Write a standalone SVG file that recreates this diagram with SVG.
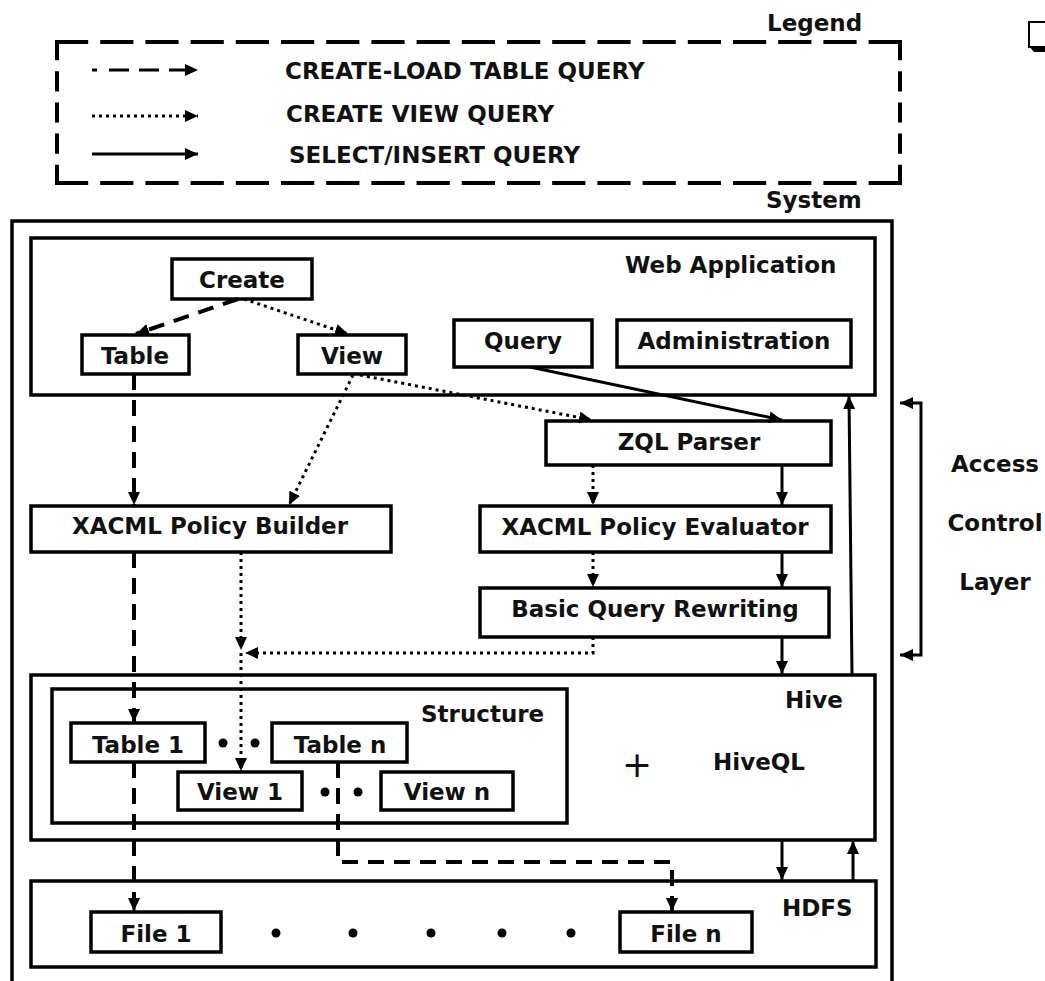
<svg xmlns="http://www.w3.org/2000/svg" width="1045" height="981" viewBox="0 0 1045 981">
  <defs>
    <style>
      .lbl { font-family: "DejaVu Sans", "Liberation Sans", sans-serif; font-weight: bold; font-size: 23px; fill: #111; }
      .mid { text-anchor: middle; }
      .box { fill: #fff; stroke: #000; stroke-width: 3.5; }
      .frame { fill: none; stroke: #000; stroke-width: 3.5; }
      .ln { fill: none; stroke: #000; stroke-width: 3; }
      .dash { stroke-width: 4; stroke-dasharray: 16 10; }
      .dot { stroke-width: 3; stroke-dasharray: 3 4; }
      .lgd { fill: none; stroke: #000; stroke-width: 4; }
      .arr { marker-end: url(#ah); }
    </style>
    <marker id="ah" markerUnits="userSpaceOnUse" markerWidth="14" markerHeight="12" refX="13" refY="6" orient="auto-start-reverse">
      <path d="M0,0 L13,6 L0,12 z" fill="#000"/>
    </marker>
  </defs>

  <rect width="1045" height="981" fill="#fff"/>

  <!-- legend panel -->
  <g id="legend">
    <path class="lgd" d="M55,42 H902" stroke-dasharray="33.2 12"/>
    <path class="lgd" d="M55,183 H902" stroke-dasharray="33.2 12"/>
    <path class="lgd" d="M57,40 V185" stroke-dasharray="20.2 11"/>
    <path class="lgd" d="M900,40 V185" stroke-dasharray="20.2 11"/>
    <text class="lbl" x="767" y="31">Legend</text>
    <path class="ln arr" d="M92,70 H198" stroke-width="4" stroke-dasharray="5 12 20 10 20 10 20 10 20"/>
    <path class="ln dot arr" d="M92,116 H198"/>
    <path class="ln arr" d="M92,154 H198"/>
    <text class="lbl" x="285" y="79">CREATE-LOAD TABLE QUERY</text>
    <text class="lbl" x="286" y="122">CREATE VIEW QUERY</text>
    <text class="lbl" x="289" y="163">SELECT/INSERT QUERY</text>
  </g>

  <!-- bullet mark, top right -->
  <g id="bullet">
    <rect x="1029" y="22" width="30" height="25" fill="#fff" stroke="#000" stroke-width="2"/>
    <path d="M1029,46 H1060 V52 H1034 z" fill="#000"/>
  </g>

  <!-- system frame (open at the bottom) -->
  <g id="system">
    <path class="frame" d="M12,990 V221 H892 V990"/>
    <text class="lbl" x="766" y="208">System</text>
  </g>

  <!-- web application tier -->
  <g id="webapp">
    <rect class="frame" x="31" y="238" width="844" height="157"/>
    <text class="lbl" x="625" y="273">Web Application</text>
  </g>
  <g id="create">
    <rect class="box" x="172" y="259" width="140" height="40"/>
    <text class="lbl mid" x="242" y="288">Create</text>
  </g>
  <g id="table">
    <rect class="box" x="82" y="335" width="107" height="39"/>
    <text class="lbl mid" x="135" y="364">Table</text>
  </g>
  <g id="view">
    <rect class="box" x="298" y="335" width="108" height="39"/>
    <text class="lbl mid" x="352" y="364">View</text>
  </g>
  <g id="query">
    <rect class="box" x="454" y="320" width="138" height="47"/>
    <text class="lbl mid" x="523" y="349">Query</text>
  </g>
  <g id="administration">
    <rect class="box" x="617" y="320" width="234" height="47"/>
    <text class="lbl mid" x="734" y="349">Administration</text>
  </g>

  <!-- access control layer -->
  <g id="zql-parser">
    <rect class="box" x="546" y="421" width="285" height="44"/>
    <text class="lbl mid" x="689" y="450">ZQL Parser</text>
  </g>
  <g id="policy-builder">
    <rect class="box" x="31" y="506" width="360" height="46"/>
    <text class="lbl mid" x="210" y="534">XACML Policy Builder</text>
  </g>
  <g id="policy-evaluator">
    <rect class="box" x="480" y="506" width="351" height="46"/>
    <text class="lbl mid" x="655" y="535">XACML Policy Evaluator</text>
  </g>
  <g id="query-rewriting">
    <rect class="box" x="480" y="588" width="349" height="49"/>
    <text class="lbl mid" x="655" y="617">Basic Query Rewriting</text>
  </g>
  <g id="acl-label">
    <text class="lbl mid" x="995" y="472">Access</text>
    <text class="lbl mid" x="995" y="531">Control</text>
    <text class="lbl mid" x="995" y="590">Layer</text>
  </g>

  <!-- hive tier -->
  <g id="hive">
    <rect class="frame" x="31" y="675" width="844" height="165"/>
    <text class="lbl" x="785" y="708">Hive</text>
    <text x="637" y="777" text-anchor="middle" font-family="DejaVu Sans, sans-serif" font-size="36" fill="#111">+</text>
    <text class="lbl" x="713" y="770">HiveQL</text>
  </g>
  <g id="structure">
    <rect class="frame" x="52" y="689" width="515" height="134"/>
    <text class="lbl" x="421" y="722">Structure</text>
    <circle cx="223" cy="743" r="4.5"/>
    <circle cx="255" cy="743" r="4.5"/>
    <circle cx="325" cy="792" r="4.5"/>
    <circle cx="358" cy="792" r="4.5"/>
  </g>
  <g id="table-1">
    <rect class="box" x="71" y="723" width="134" height="39"/>
    <text class="lbl mid" x="138" y="753">Table 1</text>
  </g>
  <g id="table-n">
    <rect class="box" x="272" y="723" width="135" height="39"/>
    <text class="lbl mid" x="340" y="753">Table n</text>
  </g>
  <g id="view-1">
    <rect class="box" x="178" y="772" width="124" height="38"/>
    <text class="lbl mid" x="240" y="800">View 1</text>
  </g>
  <g id="view-n">
    <rect class="box" x="381" y="772" width="132" height="38"/>
    <text class="lbl mid" x="447" y="800">View n</text>
  </g>

  <!-- storage tier -->
  <g id="hdfs">
    <rect class="frame" x="31" y="881" width="845" height="86"/>
    <text class="lbl" x="782" y="916">HDFS</text>
    <circle cx="276" cy="933" r="4.5"/>
    <circle cx="353" cy="933" r="4.5"/>
    <circle cx="431" cy="933" r="4.5"/>
    <circle cx="502" cy="933" r="4.5"/>
    <circle cx="571" cy="933" r="4.5"/>
  </g>
  <g id="file-1">
    <rect class="box" x="91" y="912" width="130" height="40"/>
    <text class="lbl mid" x="156" y="942">File 1</text>
  </g>
  <g id="file-n">
    <rect class="box" x="620" y="912" width="132" height="40"/>
    <text class="lbl mid" x="686" y="942">File n</text>
  </g>

  <!-- connectors -->
  <g id="connectors">
    <path class="ln dash arr" d="M238,299 L136,334"/>
    <path class="ln dot arr" d="M244,299 L348,334"/>
    <path class="ln dash arr" d="M134,374 V505"/>
    <path class="ln dot arr" d="M353,375 L289,505"/>
    <path class="ln dot arr" d="M360,375 L592,420"/>
    <path class="ln arr" d="M530,367 L782,420"/>
    <path class="ln dot arr" d="M593,465 V505"/>
    <path class="ln arr" d="M782,465 V505"/>
    <path class="ln dot arr" d="M593,552 V587"/>
    <path class="ln arr" d="M782,552 V587"/>
    <path class="ln dot arr" d="M593,637 V653 H245"/>
    <path class="ln arr" d="M782,637 V674"/>
    <path class="ln arr" d="M852,675 L849,396"/>
    <path class="ln dash arr" d="M134,552 V722"/>
    <path class="ln dot arr" d="M241,552 V650"/>
    <path class="ln dot arr" d="M241,653 V771"/>
    <path class="ln dash" d="M134,762 V900"/>
    <path class="ln arr" d="M134,898 V911"/>
    <path class="ln dash arr" d="M338,762 V862 H672 V911"/>
    <path class="ln arr" d="M782,840 V880"/>
    <path class="ln arr" d="M853,881 V841"/>
    <path class="ln" d="M900,403 H921 V655 H900" marker-start="url(#ah)" marker-end="url(#ah)"/>
  </g>
</svg>
